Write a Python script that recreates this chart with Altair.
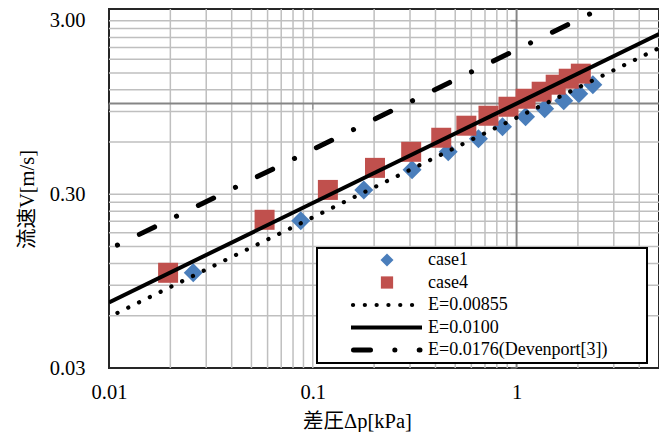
import altair as alt
import pandas as pd

# ---- data ----
dp_case1 = [0.0259, 0.0873, 0.178, 0.307, 0.462, 0.650, 0.853, 1.107, 1.374, 1.704, 2.020, 2.368]
v_case1 = [0.106, 0.211, 0.318, 0.415, 0.527, 0.627, 0.735, 0.839, 0.933, 1.037, 1.139, 1.283]

dp_case4 = [0.0195, 0.0580, 0.1186, 0.202, 0.304, 0.427, 0.567, 0.728, 0.913, 1.107, 1.328, 1.556, 1.804, 2.067]
v_case4 = [0.106, 0.214, 0.318, 0.426, 0.527, 0.635, 0.745, 0.850, 0.958, 1.065, 1.169, 1.283, 1.389, 1.485]

line_labels = ["E=0.00855", "E=0.0100", "E=0.0176(Devenport[3])"]
line_dp = [[0.011, 5.0], [0.01, 5.0], [0.011, 5.0]]
line_v = [[0.0623, 2.085], [0.0716, 2.51], [0.153, 5.14]]

x_grid = [0.02, 0.03, 0.04, 0.05, 0.06, 0.07, 0.08, 0.09,
          0.1, 0.2, 0.3, 0.4, 0.5, 0.6, 0.7, 0.8, 0.9, 1, 2, 3, 4]
y_grid = [0.06, 0.09, 0.12, 0.15, 0.18, 0.21, 0.24, 0.27, 0.3,
          0.6, 0.9, 1.2, 1.5, 1.8, 2.1, 2.4, 2.7, 3.0]
x_ticks = [0.01, 0.1, 1]
y_ticks = [0.03, 0.3, 3]
cross_at = 1
legend_labels = ["case1", "case4"] + line_labels

# ---- styles ----
FONT = "Liberation Serif"
TFONT = "Liberation Serif, Noto Sans CJK JP"
BLUE = "#4a7ebb"
RED = "#c0504d"
GRID = "#bfbfbf"
DARK = "#858585"

W, H = 550, 359
xs = alt.Scale(type="log", domain=[0.01, 5], nice=False)
ys = alt.Scale(type="log", domain=[0.03, 3.5], nice=False)

xaxis = alt.Axis(values=x_ticks, format="~g", grid=False, ticks=False, domain=False,
                 labelFont=FONT, labelFontSize=20.5, labelColor="black", labelPadding=14,
                 labelFlush=False, labelOverlap=False,
                 title="差圧Δp[kPa]", titleFont=TFONT, titleFontSize=20.5, titleFontWeight="normal",
                 titleColor="black", titleX=248, titleY=53, titleBaseline="middle", titleAlign="center")
yaxis = alt.Axis(values=y_ticks, format=".2f", grid=False, ticks=False, domain=False,
                 labelFont=FONT, labelFontSize=20.5, labelColor="black", labelPadding=24,
                 labelFlush=False, labelOverlap=False, labelBaseline="middle",
                 title="流速V[m/s]", titleFont=TFONT, titleFontSize=20.5, titleFontWeight="normal",
                 titleColor="black", titleX=-82, titleY=190, titleBaseline="middle", titleAlign="center",
                 titleAngle=270)

df1 = pd.DataFrame({"dp": dp_case1, "V": v_case1})
df4 = pd.DataFrame({"dp": dp_case4, "V": v_case4})
rows = []
for lab, dps, vs in zip(line_labels, line_dp, line_v):
    for d, v in zip(dps, vs):
        rows.append({"series": lab, "dp": d, "V": v})
dfl = pd.DataFrame(rows)

X = lambda: alt.X("dp:Q", scale=xs, axis=xaxis)
Y = lambda: alt.Y("V:Q", scale=ys, axis=yaxis)

xgrid = alt.Chart(pd.DataFrame({"dp": x_grid})).mark_rule(color=GRID, strokeWidth=1.5).encode(x=X())
ygrid = alt.Chart(pd.DataFrame({"V": y_grid})).mark_rule(color=GRID, strokeWidth=1.5).encode(y=Y())
xdark = alt.Chart(pd.DataFrame({"dp": [cross_at]})).mark_rule(color=DARK, strokeWidth=1.8).encode(x=X())
ydark = alt.Chart(pd.DataFrame({"V": [cross_at]})).mark_rule(color=DARK, strokeWidth=1.8).encode(y=Y())
xtk = alt.Chart(pd.DataFrame({"dp": x_ticks, "V": [cross_at] * 3})).mark_tick(
    orient="vertical", size=6, thickness=1.5, color=DARK, yOffset=3).encode(x=X(), y=Y())
ytk = alt.Chart(pd.DataFrame({"dp": [cross_at] * 3, "V": y_ticks})).mark_tick(
    orient="horizontal", size=6, thickness=1.5, color=DARK, xOffset=-3).encode(x=X(), y=Y())

pts1 = alt.Chart(df1).mark_point(shape="diamond", filled=True, size=360, color=BLUE, opacity=1).encode(
    x=X(), y=Y())
pts4 = alt.Chart(df4).mark_point(shape="square", filled=True, size=400, color=RED, opacity=1).encode(
    x=X(), y=Y())

def line_layer(lab, **kw):
    return alt.Chart(dfl).transform_filter(alt.datum.series == lab).mark_line(
        color="black", clip=True, **kw).encode(x=X(), y=Y())

l1 = line_layer(line_labels[0], strokeWidth=4.2, strokeDash=[0.1, 11.9], strokeCap="round")
l2 = line_layer(line_labels[1], strokeWidth=4)
l3 = line_layer(line_labels[2], strokeWidth=5, strokeDash=[17, 24.3, 0.1, 24.3],
                strokeCap="round", strokeDashOffset=41.3)

# ---- legend (drawn in pixel space of the plot) ----
LEG_Y0, LEG_DY = 251, 22.5
ly = {lab: LEG_Y0 + i * LEG_DY for i, lab in enumerate(legend_labels)}
one = pd.DataFrame({"a": [0]})

box = alt.Chart(one).mark_rect(fill="white", stroke="black", strokeWidth=2).encode(
    x=alt.value(208), x2=alt.value(538), y=alt.value(239), y2=alt.value(354))
s1 = alt.Chart(one).mark_point(shape="diamond", filled=True, size=170, color=BLUE, opacity=1).encode(
    x=alt.value(278), y=alt.value(ly["case1"]))
s4 = alt.Chart(one).mark_point(shape="square", filled=True, size=150, color=RED, opacity=1).encode(
    x=alt.value(278), y=alt.value(ly["case4"]))
r1 = alt.Chart(one).mark_rule(color="black", strokeWidth=4.2, strokeDash=[0.1, 11.7],
                              strokeCap="round").encode(
    x=alt.value(244), x2=alt.value(305), y=alt.value(ly[line_labels[0]]))
r2 = alt.Chart(one).mark_rule(color="black", strokeWidth=4).encode(
    x=alt.value(242), x2=alt.value(313), y=alt.value(ly[line_labels[1]]))
r3 = alt.Chart(one).mark_rule(color="black", strokeWidth=5, strokeDash=[17, 24.3, 0.1, 24.3],
                              strokeCap="round").encode(
    x=alt.value(244.5), x2=alt.value(311), y=alt.value(ly[line_labels[2]]))
txts = [alt.Chart(one).mark_text(align="left", baseline="middle", font=FONT, fontSize=18,
                                 color="black", text=lab).encode(x=alt.value(319), y=alt.value(ly[lab]))
        for lab in legend_labels]

chart = alt.layer(xgrid, ygrid, xdark, ydark, xtk, ytk, pts1, pts4, l1, l2, l3,
                  box, s1, s4, r1, r2, r3, *txts).properties(
    width=W, height=H, background="white",
    autosize=alt.AutoSizeParams(type="none"),
    padding={"left": 101, "top": 1, "right": 0, "bottom": 64},
).configure_view(stroke="#262626", strokeWidth=2)

chart.save("out.html", embed_options={"renderer": "svg", "actions": False})
